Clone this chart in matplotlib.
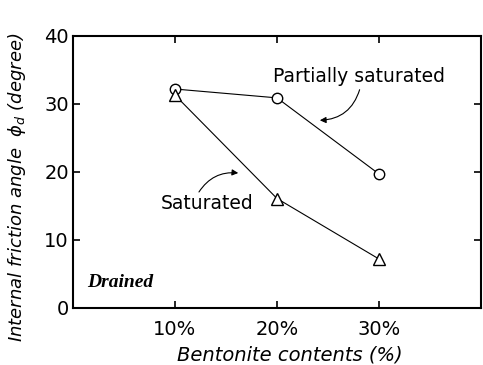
import matplotlib
matplotlib.use("Agg")
import matplotlib.pyplot as plt

# bentonite content (%) and drained friction angle (deg)
bentonite = [10, 20, 30]
phi_partial = [32.2, 30.9, 19.7]
phi_saturated = [31.3, 16.1, 7.2]
x_ticks = [10, 20, 30]
x_tick_labels = ["10%", "20%", "30%"]
y_ticks = [0, 10, 20, 30, 40]

plt.rcParams['font.family'] = 'DejaVu Sans'

fig = plt.figure(figsize=(4.83, 3.65), dpi=100)
ax = fig.add_axes([0.1511, 0.1562, 0.8448, 0.7452])

ax.plot(bentonite, phi_partial, color='black', lw=0.8, marker='o', ms=7.5,
        mfc='white', mec='black', mew=1.0, zorder=3)
ax.plot(bentonite, phi_saturated, color='black', lw=0.8, marker='^', ms=8,
        mfc='white', mec='black', mew=1.0, zorder=3)

ax.set_xlim(0, 40)
ax.set_ylim(0, 40)
ax.set_xticks(x_ticks)
ax.set_xticklabels(x_tick_labels)
ax.set_yticks(y_ticks)

for s in ax.spines.values():
    s.set_linewidth(1.5)
ax.tick_params(direction='in', length=5, width=1.2, labelsize=14,
               top=True, right=True)
ax.tick_params(axis='x', pad=9)
ax.tick_params(axis='y', pad=3)

ax.set_xlabel("Bentonite contents (%)", fontsize=14, style='italic')
ax.xaxis.set_label_coords(0.532, -0.138)
ax.set_ylabel(r"Internal friction angle  $\phi_d$ (degree)", fontsize=13,
              style='italic')
ax.yaxis.set_label_coords(-0.11, 0.445)

# curve labels with curved pointers
ax.text(19.6, 34.1, "Partially saturated", fontsize=13.5, va='center')
ax.annotate("", xy=(24.2, 27.6), xytext=(28.1, 32.1),
            arrowprops=dict(arrowstyle='-|>', color='black', lw=0.8,
                            mutation_scale=9, shrinkA=0, shrinkB=0,
                            connectionstyle='arc3,rad=-0.35'))
ax.text(8.6, 15.3, "Saturated", fontsize=13.5, va='center')
ax.annotate("", xy=(16.2, 19.85), xytext=(12.35, 17.06),
            arrowprops=dict(arrowstyle='-|>', color='black', lw=0.8,
                            mutation_scale=9, shrinkA=0, shrinkB=0,
                            connectionstyle='arc3,rad=-0.3'))

ax.text(1.4, 3.8, "Drained", fontsize=14, family='Liberation Serif',
        weight='bold', style='italic', va='center')

fig.savefig("out.png", dpi=100)
